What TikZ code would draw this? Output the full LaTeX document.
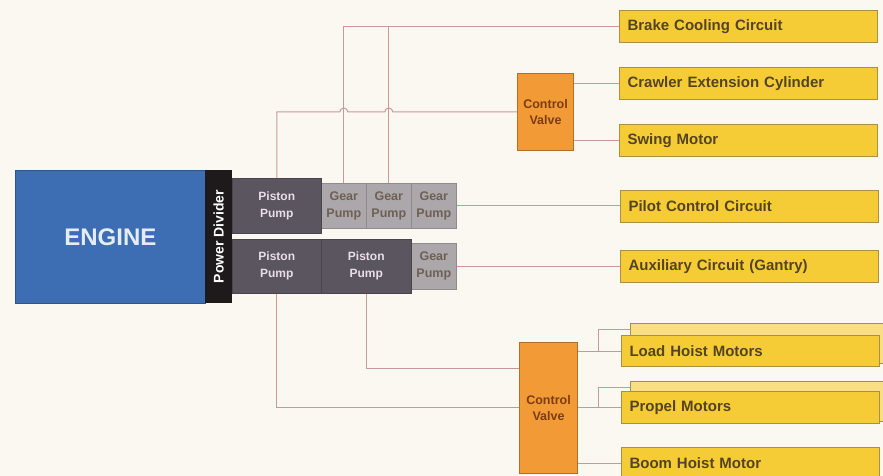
\documentclass[tikz,border=0pt]{standalone}
\usepackage{fontspec}
\setmainfont{Liberation Sans}
\usetikzlibrary{calc}
\definecolor{bgc}{HTML}{FBF7F1}
\definecolor{yfill}{HTML}{F5CC36}
\definecolor{yback}{HTML}{F9DE85}
\definecolor{yborder}{HTML}{A99045}
\definecolor{ytext}{HTML}{554420}
\definecolor{engfill}{HTML}{3D6DB3}
\definecolor{engborder}{HTML}{2C5590}
\definecolor{engtext}{HTML}{E4ECF6}
\definecolor{pdfill}{HTML}{1E1A1C}
\definecolor{ppfill}{HTML}{5B5560}
\definecolor{pptext}{HTML}{E8DEE6}
\definecolor{gpfill}{HTML}{ABA7AA}
\definecolor{gpborder}{HTML}{8F8A8D}
\definecolor{gptext}{HTML}{6E6054}
\definecolor{cvfill}{HTML}{F29A35}
\definecolor{cvborder}{HTML}{B0702A}
\definecolor{cvtext}{HTML}{7A3E12}
\definecolor{linec}{HTML}{C79A98}
\begin{document}
\begin{tikzpicture}[x=1pt,y=-1pt,
  ybox/.style={draw=yborder, fill=yfill, line width=1pt, minimum height=32pt,
    text width=242pt, inner xsep=8pt, inner ysep=0pt, align=left, anchor=north west,
    font=\fontsize{15}{18}\selectfont\bfseries, text=ytext},
  yback/.style={draw=yborder, fill=yback, line width=1pt, anchor=north west,
    minimum width=270pt, minimum height=40pt, inner sep=0pt},
  engbox/.style={draw=engborder, fill=engfill, line width=0.8pt, anchor=north west,
    inner sep=0pt, text=engtext, font=\fontsize{24}{28}\selectfont\bfseries},
  pdbox/.style={fill=pdfill, inner sep=0pt, text=white,
    font=\fontsize{14}{16}\selectfont\bfseries},
  ppbox/.style={draw=ppfill!80!black, fill=ppfill, line width=0.6pt, anchor=north west,
    inner sep=0pt, align=center, text=pptext, font=\fontsize{12}{17}\selectfont\bfseries},
  gpbox/.style={draw=gpborder, fill=gpfill, line width=0.6pt, anchor=north west,
    inner sep=0pt, align=center, text=gptext, minimum width=45pt,
    font=\fontsize{12.5}{17}\selectfont\bfseries},
  cvbox/.style={draw=cvborder, fill=cvfill, line width=1pt, anchor=north west,
    inner sep=0pt, align=center, text=cvtext, font=\fontsize{12.5}{16}\selectfont\bfseries},
  conn/.style={draw=linec, line width=1pt}]
\useasboundingbox (0,0) rectangle (883,476);
\clip (0,0) rectangle (883,476);
\fill[bgc] (0,0) rectangle (883,476);

% engine and power divider
\node[engbox, minimum width=190pt, minimum height=133pt] (engine) at (15,170) {ENGINE};
\node[pdbox, rotate=90, minimum width=133pt, minimum height=27pt] (pd) at (218.5,236.5) {Power Divider};

% pumps
\node[gpbox, minimum height=45pt] (gp1) at (321,183) {Gear\\Pump};
\node[gpbox, minimum height=45pt] (gp2) at (366,183) {Gear\\Pump};
\node[gpbox, minimum height=45pt] (gp3) at (411,183) {Gear\\Pump};
\node[ppbox, minimum width=89pt, minimum height=55pt] (pp1) at (232,178) {Piston\\Pump};
\node[gpbox, minimum height=46pt] (gp4) at (411,243) {Gear\\Pump};
\node[ppbox, minimum width=89pt, minimum height=54pt] (pp2) at (232,239) {Piston\\Pump};
\node[ppbox, minimum width=90pt, minimum height=54pt] (pp3) at (321,239) {Piston\\Pump};

% control valves
\node[cvbox, minimum width=56pt, minimum height=77pt] (cv1) at (517,73) {Control\\Valve};
\node[cvbox, minimum width=58pt, minimum height=131pt] (cv2) at (519,342) {Control\\Valve};

% circuits
\node[ybox] (brake) at (619,10) {Brake Cooling Circuit};
\node[ybox] (crawler) at (619,67) {Crawler Extension Cylinder};
\node[ybox] (swing) at (619,124) {Swing Motor};
\node[ybox] (pilot) at (620,190) {Pilot Control Circuit};
\node[ybox] (aux) at (620,250) {Auxiliary Circuit (Gantry)};
\node[yback] (loadb) at (630,323) {};
\node[ybox, minimum height=31pt] (load) at (621,335) {Load Hoist Motors};
\node[yback] (propb) at (630,381) {};
\node[ybox] (propel) at (621,391) {Propel Motors};
\node[ybox] (boom) at (621,447) {Boom Hoist Motor};

% connectors
\draw[conn] (gp1.north) |- (brake.west);
\draw[conn] (gp2.north) -- (gp2.north |- brake.west);
\draw[conn] (pp1.north) -- (pp1.north |- cv1.west)
  -- ($(gp1.north |- cv1.west)+(-4,0)$) arc[start angle=180,end angle=0,radius=4pt]
  -- ($(gp2.north |- cv1.west)+(-4,0)$) arc[start angle=180,end angle=0,radius=4pt]
  -- (cv1.west);
\draw[conn] (cv1.east |- crawler.west) -- (crawler.west);
\draw[conn] (cv1.east |- swing.west) -- (swing.west);
\draw[conn] (gp3.east) -- (gp3.east -| pilot.west);
\draw[conn] (gp4.east) -- (gp4.east -| aux.west);
\draw[conn] (pp3.south) |- ($(cv2.north west)+(0,26)$);
\draw[conn] (pp2.south) |- (cv2.west |- propel.west);
\draw[conn] (cv2.east |- load.west) -- (load.west);
\draw[conn] (cv2.east |- propel.west) -- (propel.west);
\draw[conn] (cv2.east |- boom.west) -- (boom.west);
\coordinate (lj) at ($(cv2.east |- load.west)+(20,0)$);
\coordinate (pj) at ($(cv2.east |- propel.west)+(20,0)$);
\draw[conn] (lj) |- ($(loadb.north west)+(0,6)$);
\draw[conn] (pj) |- ($(propb.north west)+(0,6)$);
\end{tikzpicture}
\end{document}
